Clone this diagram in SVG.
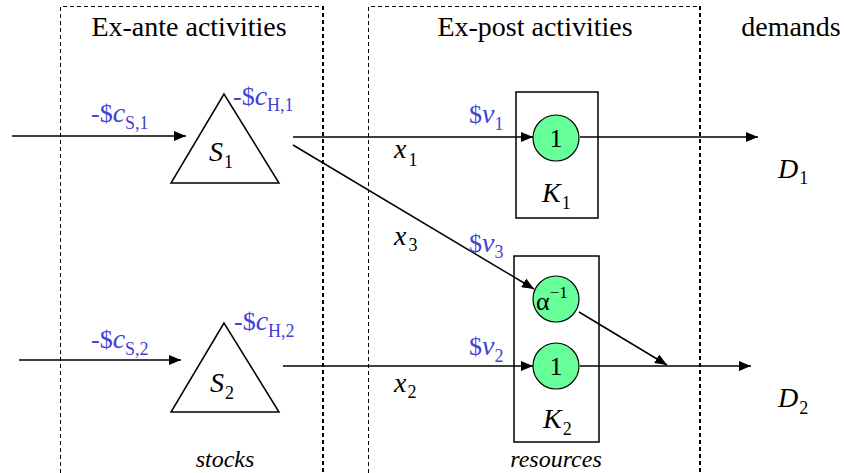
<svg xmlns="http://www.w3.org/2000/svg" width="844" height="473" viewBox="0 0 844 473">
<defs>
<marker id="ah" viewBox="0 0 12 10" refX="12" refY="5" markerWidth="12" markerHeight="10" markerUnits="userSpaceOnUse" orient="auto">
<path d="M0,0 L12,5 L0,10 Z" fill="#000"/>
</marker>
<style>
text{font-family:'Liberation Serif','DejaVu Serif',serif}
.t{fill:#000}
.title{font-size:28px}
.it{font-style:italic}
.big{font-size:28px}
.sub{font-size:18px;font-style:normal}
.blue{fill:#4141d6;font-size:26px}
.bsub{font-size:18px;font-style:normal}
.dash{fill:none;stroke:#000;stroke-dasharray:4,3}
.arr{fill:none;stroke:#000;stroke-width:1.5;marker-end:url(#ah)}
.node{fill:#fff;stroke:#000;stroke-width:1.5}
.circ{fill:#66ff99;stroke:#000;stroke-width:1.2}
</style>
</defs>
<rect width="844" height="473" fill="#fff"/>

<g id="zones">
<path class="dash" d="M60.5,473 V6.5 H323" stroke-width="1"/>
<path class="dash" d="M323,6 V473" stroke-width="2"/>
<path class="dash" d="M368.5,473 V6.5 H700" stroke-width="1"/>
<path class="dash" d="M700,6 V473" stroke-width="2"/>
<text class="t title" x="189" y="36" text-anchor="middle">Ex-ante activities</text>
<text class="t title" x="535" y="36" text-anchor="middle">Ex-post activities</text>
<text class="t title" x="791" y="36" text-anchor="middle">demands</text>
<text class="t it" x="225" y="467" font-size="24" text-anchor="middle">stocks</text>
<text class="t it" x="556" y="467" font-size="24" text-anchor="middle">resources</text>
</g>

<g id="S1">
<polygon class="node" points="224,94 171,183 279,183"/>
<text class="t it big" x="209" y="161">S<tspan class="sub" dx="1" dy="7">1</tspan></text>
</g>
<g id="S2">
<polygon class="node" points="224,323 171,412 279,412"/>
<text class="t it big" x="210" y="392">S<tspan class="sub" dx="1" dy="7">2</tspan></text>
</g>
<g id="K1">
<rect class="node" x="516" y="92" width="82" height="126"/>
<circle id="K1c" class="circ" cx="556" cy="138" r="23"/>
<text class="t" x="556" y="147" font-size="26" text-anchor="middle">1</text>
<text class="t it big" x="542" y="202">K<tspan class="sub" dx="1" dy="7">1</tspan></text>
</g>
<g id="K2">
<rect class="node" x="514" y="256" width="85" height="186"/>
<circle id="K2a" class="circ" cx="556" cy="299" r="23"/>
<text class="t" x="536" y="310" font-size="26">α<tspan font-size="17" dy="-12">−1</tspan></text>
<circle id="K2c" class="circ" cx="556" cy="366" r="23"/>
<text class="t" x="556" y="375" font-size="26" text-anchor="middle">1</text>
<text class="t it big" x="543" y="428">K<tspan class="sub" dx="1" dy="7">2</tspan></text>
</g>
<g id="D1">
<text class="t it big" x="778" y="178">D<tspan class="sub" dx="1" dy="6">1</tspan></text>
</g>
<g id="D2">
<text class="t it big" x="778" y="407">D<tspan class="sub" dx="1" dy="7">2</tspan></text>
</g>

<g id="connectors">
<line class="arr" x1="12" y1="136" x2="186" y2="136"/>
<line class="arr" x1="19" y1="360" x2="181" y2="360"/>
<line class="arr" x1="293" y1="137" x2="533" y2="137"/>
<line class="arr" x1="293" y1="145" x2="534" y2="289"/>
<line class="arr" x1="283" y1="366" x2="533" y2="366"/>
<line class="arr" x1="580" y1="137" x2="758" y2="137"/>
<line class="arr" x1="580" y1="366" x2="751" y2="366"/>
<line class="arr" x1="579" y1="312" x2="667" y2="365"/>
</g>

<g id="labels">
<text class="t blue" x="91" y="122">-$<tspan font-style="italic" font-size="28">c</tspan><tspan class="bsub" dy="7">S,1</tspan></text>
<text class="t blue" x="233" y="105">-$<tspan font-style="italic" font-size="28">c</tspan><tspan class="bsub" dy="6">H,1</tspan></text>
<text class="t blue" x="91" y="348">-$<tspan font-style="italic" font-size="28">c</tspan><tspan class="bsub" dy="7">S,2</tspan></text>
<text class="t blue" x="234" y="330">-$<tspan font-style="italic" font-size="28">c</tspan><tspan class="bsub" dy="7">H,2</tspan></text>
<text class="t blue" x="469" y="123">$<tspan font-style="italic" font-size="28">v</tspan><tspan class="bsub" dy="7">1</tspan></text>
<text class="t blue" x="469" y="252">$<tspan font-style="italic" font-size="28">v</tspan><tspan class="bsub" dy="6">3</tspan></text>
<text class="t blue" x="469" y="355">$<tspan font-style="italic" font-size="28">v</tspan><tspan class="bsub" dy="7">2</tspan></text>
<text class="t it big" x="394" y="158">x<tspan class="sub" dx="2" dy="8">1</tspan></text>
<text class="t it big" x="394" y="245">x<tspan class="sub" dx="2" dy="6">3</tspan></text>
<text class="t it big" x="394" y="392">x<tspan class="sub" dx="1" dy="6">2</tspan></text>
</g>
</svg>
